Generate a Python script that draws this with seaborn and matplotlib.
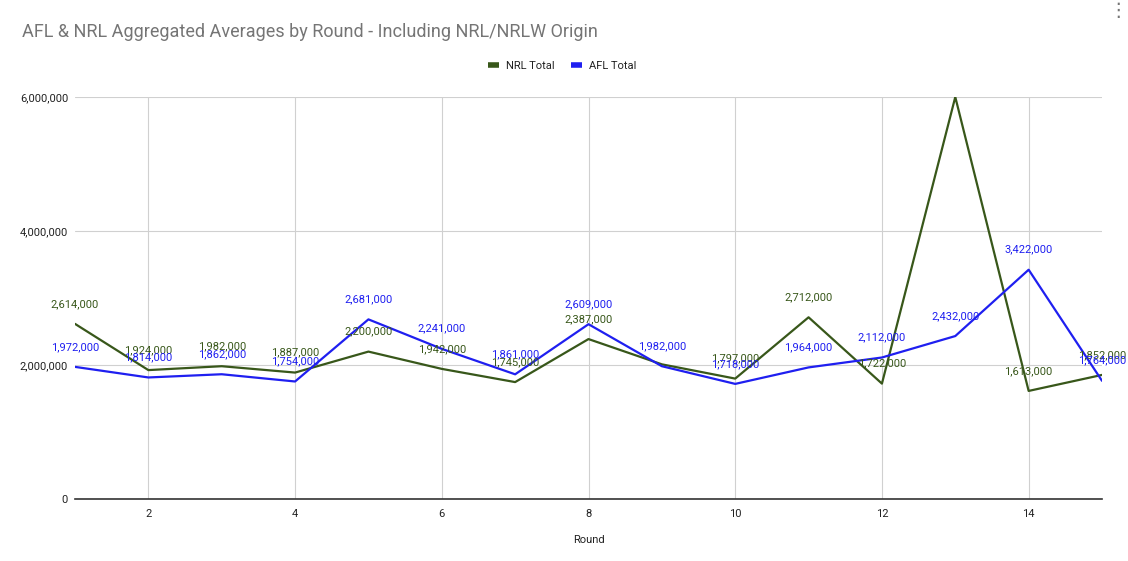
import matplotlib
matplotlib.use("Agg")
import matplotlib.pyplot as plt
import seaborn as sns
import pandas as pd
from matplotlib.ticker import FuncFormatter, FixedLocator
from matplotlib.lines import Line2D

rounds = list(range(1, 16))
nrl_total = [2614000, 1924000, 1982000, 1887000, 2200000, 1942000, 1745000, 2387000,
             2010000, 1797000, 2712000, 1722000, 6000000, 1613000, 1852000]
afl_total = [1972000, 1814000, 1862000, 1754000, 2681000, 2241000, 1861000, 2609000,
             1982000, 1718000, 1964000, 2112000, 2432000, 3422000, 1764000]
# labels hidden in the reference (collisions / clipped)
nrl_show = [True, True, True, True, True, True, True, True,
            False, True, True, True, False, True, True]
afl_show = [True] * 15

series_names = ["NRL Total", "AFL Total"]
colors = {"NRL Total": "#38571a", "AFL Total": "#1f1ff0"}

df = pd.DataFrame({
    "Round": rounds * 2,
    "Value": nrl_total + afl_total,
    "Series": ["NRL Total"] * 15 + ["AFL Total"] * 15,
})

sns.set_theme(style="white")
plt.rcParams["font.family"] = ["Roboto", "DejaVu Sans"]

fig = plt.figure(figsize=(11.28, 5.61), dpi=100)
ax = fig.add_axes([75 / 1128, 1 - 499 / 561, (1102 - 75) / 1128, (499 - 97) / 561])

sns.lineplot(data=df, x="Round", y="Value", hue="Series", hue_order=series_names,
             palette=colors, linewidth=1.6, ax=ax, legend=False, zorder=3)

ax.set_xlim(1, 15)
ax.set_ylim(0, 6000000)
ax.xaxis.set_major_locator(FixedLocator([2, 4, 6, 8, 10, 12, 14]))
ax.yaxis.set_major_locator(FixedLocator([0, 2000000, 4000000, 6000000]))
ax.yaxis.set_major_formatter(FuncFormatter(lambda v, p: f"{int(v):,}"))
ax.grid(True, color="#d0d0d0", linewidth=0.8)
ax.set_axisbelow(True)
for s in ["top", "right", "left"]:
    ax.spines[s].set_visible(False)
ax.spines["bottom"].set_color("#333333")
ax.spines["bottom"].set_linewidth(1.2)
ax.spines["bottom"].set_zorder(4)
ax.tick_params(axis="both", length=0, labelsize=8, colors="#222222")
ax.tick_params(axis="y", pad=5)
ax.tick_params(axis="x", pad=7)
ax.set_xlabel("Round", fontsize=8, color="#222222", labelpad=12)
ax.set_ylabel("")

# data labels
for vals, show, name in [(nrl_total, nrl_show, "NRL Total"), (afl_total, afl_show, "AFL Total")]:
    for r, v, s in zip(rounds, vals, show):
        if not s:
            continue
        ax.annotate(f"{v:,}", (r, v), xytext=(0, 14.5), textcoords="offset points",
                    ha="center", va="center", fontsize=8, color=colors[name],
                    annotation_clip=False, zorder=5)

fig.text(22 / 1128, 1 - 32 / 561, "AFL & NRL Aggregated Averages by Round - Including NRL/NRLW Origin",
         fontsize=13, color="#757575", ha="left", va="center")

handles = [Line2D([0], [0], color=colors[n], linewidth=4, solid_capstyle="butt") for n in series_names]
fig.legend(handles, series_names, loc="center", bbox_to_anchor=(562 / 1128, 1 - 66 / 561),
           ncol=2, frameon=False, fontsize=8, handlelength=1.0, handletextpad=0.6,
           columnspacing=1.5, labelcolor="#222222")

fig.text(1118 / 1128, 1 - 10 / 561, "\u22ee", fontsize=14, color="#757575",
         ha="center", va="center", family="DejaVu Sans")

fig.savefig("out.png", dpi=100)
